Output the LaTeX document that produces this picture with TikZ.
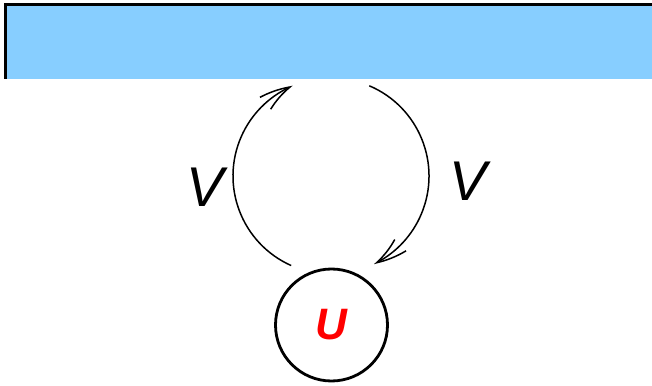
\documentclass[tikz,border=0pt]{standalone}
\usepackage{fontspec}
\setmainfont{Liberation Sans}
\usepackage{xcolor}
\usepackage{tikz}
\usetikzlibrary{arrows.meta,bending,calc}
\definecolor{barblue}{HTML}{87CEFF}
\definecolor{dotred}{HTML}{FF0000}
\tikzset{
  leadfill/.style={fill=barblue, draw=none},
  leadedge/.style={draw=black, line width=3pt},
  looparc/.style={-{Straight Barb[length=30pt, width=16pt, bend]}, line width=1.5pt, draw=black},
  hoplabel/.style={font=\fontsize{56}{60}\selectfont\itshape, inner sep=0pt},
  dotnode/.style={circle, draw=black, line width=2.8pt, minimum size=112pt, inner sep=0pt,
    font=\fontsize{44}{48}\selectfont\bfseries\itshape, text=dotred}
}
\begin{document}
\begin{tikzpicture}[x=1pt, y=1pt]
    \useasboundingbox (0,0) rectangle (652,385);
    % lead
    \fill[leadfill] (5.5,306) rectangle (652,380.5);
    \draw[leadedge] (5.5,306) -- (5.5,380.5) -- (652,380.5);
    % dot
    \node[dotnode] (dot) at (331.5,60) {U};
    % hopping loop
    \coordinate (loop) at (331,209);
    \coordinate (upstart) at ($(loop)+(246:98)$);
    \coordinate (downstart) at ($(loop)+(67:98)$);
    \draw[looparc] (upstart) arc[start angle=246, end angle=113, radius=98pt];
    \draw[looparc] (downstart) arc[start angle=67, end angle=-64, radius=98pt];
    \node[hoplabel] (vin) at (205,198) {V};
    \node[hoplabel] (vout) at (468,204) {V};
\end{tikzpicture}
\end{document}
